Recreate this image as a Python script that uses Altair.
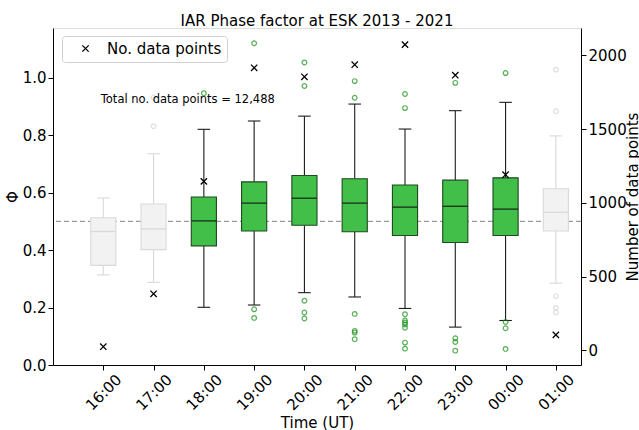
import altair as alt
import pandas as pd

# ---------------- data ----------------
hours = ["16:00", "17:00", "18:00", "19:00", "20:00", "21:00", "22:00", "23:00", "00:00", "01:00"]
positions = [1, 2, 3, 4, 5, 6, 7, 8, 9, 10]
highlighted = [False, False, True, True, True, True, True, True, True, False]

whisker_lo = [0.314, 0.288, 0.201, 0.209, 0.252, 0.237, 0.197, 0.132, 0.155, 0.285]
q1 = [0.347, 0.402, 0.415, 0.467, 0.487, 0.464, 0.451, 0.427, 0.451, 0.467]
median = [0.465, 0.474, 0.502, 0.564, 0.581, 0.564, 0.550, 0.553, 0.543, 0.532]
q3 = [0.513, 0.561, 0.585, 0.638, 0.660, 0.649, 0.627, 0.644, 0.652, 0.614]
whisker_hi = [0.582, 0.736, 0.821, 0.850, 0.867, 0.909, 0.822, 0.886, 0.915, 0.798]

n_points = [24, 383, 1145, 1915, 1854, 1936, 2072, 1865, 1190, 104]

outlier_hour = (["17:00"] * 2 + ["18:00"] * 1 + ["19:00"] * 3 + ["20:00"] * 5 +
                ["21:00"] * 6 + ["22:00"] * 9 + ["23:00"] * 4 + ["00:00"] * 4 + ["01:00"] * 5)
outlier_phi = [0.832, 0.932,
               0.947,
               1.121, 0.194, 0.164,
               1.054, 0.972, 0.224, 0.183, 0.162,
               0.989, 0.931, 0.178, 0.119, 0.113, 0.090,
               0.944, 0.895, 0.177, 0.155, 0.148, 0.141, 0.130, 0.078, 0.057,
               0.983, 0.093, 0.080, 0.050,
               1.017, 0.150, 0.128, 0.056,
               1.029, 0.884, 0.240, 0.199, 0.183]

reference_phi = [0.5]
total_label = ["Total no. data points = 12,488"]
total_label_x = [2.68]
total_label_y = [0.923]

# ---------------- tables ----------------
pos_of = dict(zip(hours, positions))
grp = ["on" if h else "off" for h in highlighted]

boxes = pd.DataFrame({
    "pos": positions, "hour": hours, "group": grp,
    "lo": whisker_lo, "q1": q1, "med": median, "q3": q3, "hi": whisker_hi,
})
outliers = pd.DataFrame({
    "pos": [pos_of[h] for h in outlier_hour],
    "phi": outlier_phi,
    "group": [grp[pos_of[h] - 1] for h in outlier_hour],
})
counts = pd.DataFrame({"pos": positions, "n": n_points, "series": ["No. data points"] * len(hours)})
ref = pd.DataFrame({"phi": reference_phi})
note = pd.DataFrame({"x": total_label_x, "y": total_label_y, "text": total_label})

FONT = "DejaVu Sans"
is_on = "datum.group === 'on'"

label_expr = "[" + ",".join("'%s'" % h for h in hours) + "][datum.value - 1]"
x_scale = alt.Scale(domain=[0, 10.5], nice=False, zero=False)
y_scale = alt.Scale(domain=[0, 1.174], nice=False, zero=False)

x_axis = alt.Axis(values=positions, labelExpr=label_expr, title="Time (UT)",
                  labelAngle=-45, labelAlign="center", labelBaseline="middle",
                  labelPadding=22, tickSize=5, labelFontSize=15, titleFontSize=15,
                  titleFontWeight="normal", titleY=57, titleBaseline="middle",
                  grid=False, domainColor="black", tickColor="black", labelColor="black",
                  titleColor="black", labelFont=FONT, titleFont=FONT, labelFlush=False,
                  labelOverlap=False)
y_axis = alt.Axis(values=[0, 0.2, 0.4, 0.6, 0.8, 1.0], format=".1f", title="Φ",
                  tickSize=5, labelPadding=2, labelFontSize=15, titleFontSize=15,
                  titleFontWeight="normal", titleAngle=270, titleX=-41, titleY=168.5,
                  titleAlign="center", titleBaseline="middle",
                  grid=False, domainColor="black", tickColor="black", labelColor="black",
                  titleColor="black", labelFont=FONT, titleFont=FONT, labelFlush=False,
                  labelOverlap=False)

base = alt.Chart(boxes)
X = lambda f: alt.X(f, scale=x_scale, axis=x_axis)
Y = lambda f: alt.Y(f, scale=y_scale, axis=y_axis)

dark = "#1c1c1c"
light = "#d9d9d9"

ref_line = alt.Chart(ref).mark_rule(strokeDash=[5, 3], color="#9a9a9a", strokeWidth=1.3).encode(
    y=Y("phi:Q")
)
whisk_low = base.mark_rule(strokeWidth=1.1).encode(
    x=X("pos:Q"), y=Y("lo:Q"), y2="q1:Q",
    color=alt.condition(is_on, alt.value(dark), alt.value(light)),
)
whisk_high = base.mark_rule(strokeWidth=1.1).encode(
    x=X("pos:Q"), y=Y("q3:Q"), y2="hi:Q",
    color=alt.condition(is_on, alt.value(dark), alt.value(light)),
)
cap_lo = base.transform_calculate(a="datum.pos - 0.125", b="datum.pos + 0.125").mark_rule(strokeWidth=1.1).encode(
    x=X("a:Q"), x2="b:Q", y=Y("lo:Q"),
    color=alt.condition(is_on, alt.value(dark), alt.value(light)),
)
cap_hi = base.transform_calculate(a="datum.pos - 0.125", b="datum.pos + 0.125").mark_rule(strokeWidth=1.1).encode(
    x=X("a:Q"), x2="b:Q", y=Y("hi:Q"),
    color=alt.condition(is_on, alt.value(dark), alt.value(light)),
)
box = base.transform_calculate(a="datum.pos - 0.25", b="datum.pos + 0.25").mark_rect(strokeWidth=1.1).encode(
    x=X("a:Q"), x2="b:Q", y=Y("q1:Q"), y2="q3:Q",
    fill=alt.condition(is_on, alt.value("#41bf48"), alt.value("#f2f2f2")),
    stroke=alt.condition(is_on, alt.value("#1d4a1f"), alt.value(light)),
)
med = base.transform_calculate(a="datum.pos - 0.25", b="datum.pos + 0.25").mark_rule(strokeWidth=1.3).encode(
    x=X("a:Q"), x2="b:Q", y=Y("med:Q"),
    color=alt.condition(is_on, alt.value("#1a2e1a"), alt.value(light)),
)
outl = alt.Chart(outliers).mark_point(shape="circle", filled=False, size=22, strokeWidth=1.2).encode(
    x=X("pos:Q"), y=Y("phi:Q"),
    color=alt.condition(is_on, alt.value("#138f13"), alt.value("#d3d3d3")),
)
txt = alt.Chart(note).mark_text(fontSize=11.5, font=FONT, color="black", align="center", baseline="middle").encode(
    x=X("x:Q"), y=Y("y:Q"), text="text:N",
)

left = alt.layer(ref_line, whisk_low, whisk_high, cap_lo, cap_hi, box, med, outl, txt)

xpath = "M-1,-1L1,1M-1,1L1,-1"
cnt = alt.Chart(counts).mark_point(filled=False, size=40, strokeWidth=1.3, color="black", opacity=1).encode(
    x=X("pos:Q"),
    y=alt.Y("n:Q", scale=alt.Scale(domain=[-100, 2185], nice=False, zero=False),
            axis=alt.Axis(orient="right", values=[0, 500, 1000, 1500, 2000], format="d",
                          title="Number of data points", tickSize=5, labelPadding=2,
                          labelFontSize=15, titleFontSize=15, titleFontWeight="normal",
                          titleAngle=270, titleX=51, titleY=168.5, titleAlign="center",
                          titleBaseline="middle", grid=False, domainColor="black",
                          tickColor="black", labelColor="black", titleColor="black",
                          labelFont=FONT, titleFont=FONT, labelFlush=False, labelOverlap=False)),
    shape=alt.Shape("series:N", scale=alt.Scale(domain=["No. data points"], range=[xpath]),
                    legend=alt.Legend(title=None, orient="none", legendX=9, legendY=8,
                                      fillColor="white", strokeColor="#d0d0d0", cornerRadius=3,
                                      padding=5, labelFontSize=15, labelFont=FONT, labelColor="black",
                                      symbolSize=40, symbolOffset=11, labelOffset=14,
                                      symbolStrokeColor="black", symbolFillColor="transparent",
                                      symbolStrokeWidth=1.3)),
)

chart = alt.layer(left, cnt).resolve_scale(y="independent").properties(
    width=528, height=337,
    autosize=alt.AutoSizeParams(type="none"),
    padding={"left": 53, "top": 28, "right": 58, "bottom": 65},
    title=alt.TitleParams("IAR Phase factor at ESK 2013 - 2021", fontSize=15, fontWeight="normal",
                          font=FONT, baseline="alphabetic", offset=4, anchor="middle", color="black",
                          dy=17),
).configure_view(stroke="black", strokeWidth=1).configure(font=FONT, background="white")

chart.save("out.html", embed_options={"renderer": "svg", "actions": False})
